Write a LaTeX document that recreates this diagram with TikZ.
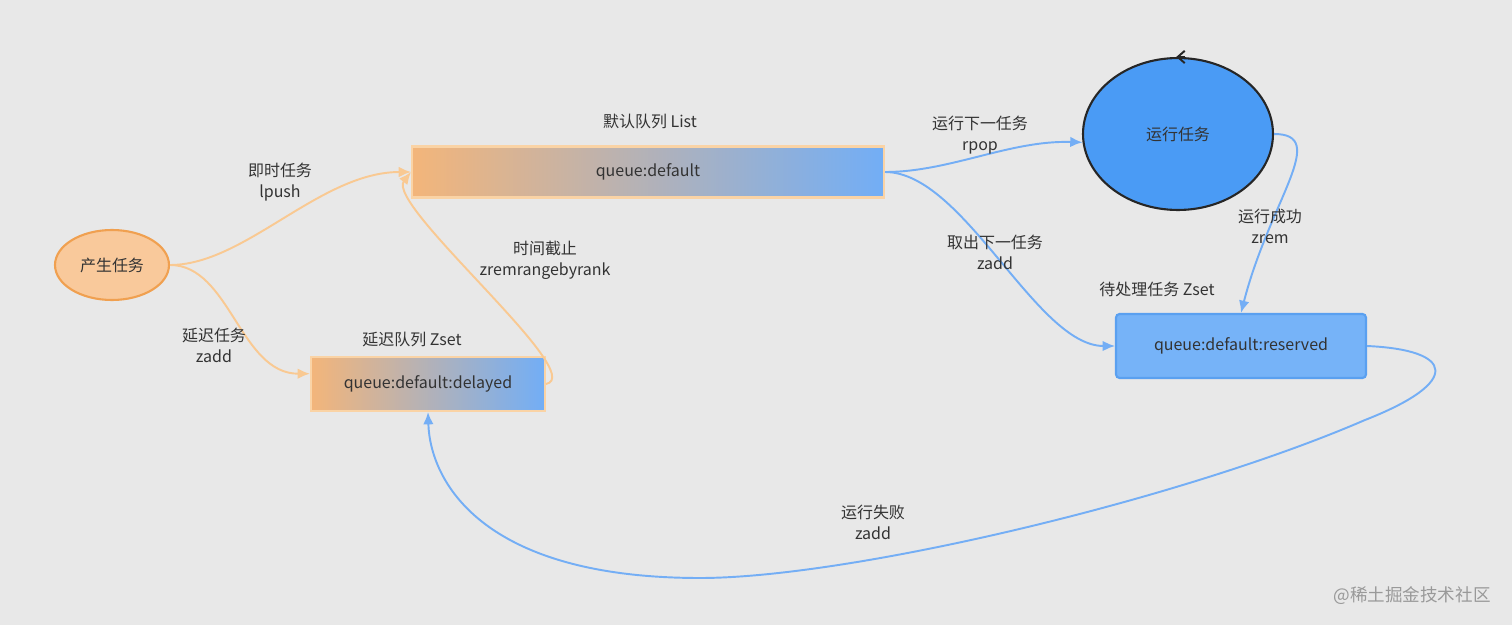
\documentclass[tikz,border=0pt]{standalone}
\usepackage{fontspec}
\setmainfont{Noto Sans CJK SC}
\usetikzlibrary{shapes.geometric,arrows.meta}

\definecolor{bggray}{HTML}{E8E8E8}
\definecolor{txtgray}{HTML}{333333}
\definecolor{genfill}{HTML}{F9C99B}
\definecolor{gendraw}{HTML}{F0A050}
\definecolor{orline}{HTML}{F9C992}
\definecolor{boxorange}{HTML}{F3B57A}
\definecolor{boxblue}{HTML}{72AEF6}
\definecolor{boxedge}{HTML}{FAD3A5}
\definecolor{blline}{HTML}{74AEF5}
\definecolor{runfill}{HTML}{4A9BF5}
\definecolor{resfill}{HTML}{76B3F8}
\definecolor{resdraw}{HTML}{5AA0F0}

\begin{document}
\begin{tikzpicture}[x=0.02cm,y=-0.02cm,
  every node/.style={font=\fontsize{9.1}{12}\selectfont,text=txtgray},
  gennode/.style={ellipse,draw=gendraw,fill=genfill,line width=1.2pt,minimum width=2.28cm,minimum height=1.4cm,inner sep=0pt},
  queuebox/.style={rectangle,draw=boxedge,line width=1.2pt,left color=boxorange,right color=boxblue,inner sep=0pt},
  runnode/.style={ellipse,draw=black!85,fill=runfill,line width=1.2pt,minimum width=3.8cm,minimum height=3.04cm,inner sep=0pt},
  resbox/.style={rectangle,rounded corners=2pt,draw=resdraw,fill=resfill,line width=1.2pt,minimum width=5cm,minimum height=1.28cm,inner sep=0pt},
  lbl/.style={align=center},
  orarrow/.style={draw=orline,line width=1.1pt,-{Latex[length=7pt,width=6pt]}},
  blarrow/.style={draw=blline,line width=1.1pt,-{Latex[length=7pt,width=6pt]}}]

  \fill[bggray] (0,0) rectangle (1512,625);
  \useasboundingbox (0,0) rectangle (1512,625);

  \node[gennode] (gen) at (112,265) {产生任务};
  \node[queuebox,minimum width=9.44cm,minimum height=1.02cm] (list) at (648,172) {queue:default};
  \node[queuebox,minimum width=4.68cm,minimum height=1.08cm] (delayed) at (428,384) {queue:default:delayed};
  \node[runnode] (run) at (1178,134) {运行任务};
  \node[resbox] (reserved) at (1241,346) {queue:default:reserved};

  \node (listtitle) at (650,121) {默认队列 List};
  \node (delaytitle) at (412,339) {延迟队列 Zset};
  \node (restitle) at (1157,289) {待处理任务 Zset};

  \draw[orarrow] (gen.east) .. controls (245,265) and (320,172) .. (list.west);
  \draw[orarrow] (gen.east) .. controls (230,265) and (240,374) .. (delayed.175);
  \draw[orarrow] (delayed.east) .. controls (590,375) and (385,205) .. (list.west);
  \draw[blarrow] (list.east) .. controls (950,172) and (1010,140) .. (run.185);
  \draw[blarrow] (list.east) .. controls (964,172) and (1036,346) .. (reserved.west);
  \draw[blarrow] (run.east) .. controls (1330,134) and (1270,200) .. (reserved.north);
  \draw[blarrow] (reserved.east) .. controls (1455,350) and (1462,382) .. (1365,420)
    .. controls (1180,500) and (850,578) .. (700,578)
    .. controls (480,578) and (430,480) .. (delayed.south);
  \draw[black!85,line width=1.1pt,-{Straight Barb[length=4pt,width=7pt]}] ([xshift=4pt]run.north) -- ([xshift=-1pt]run.north);

  \node[lbl] (lpushlbl) at (280,182) {即时任务\\lpush};
  \node[lbl] (zaddlbl) at (214,345) {延迟任务\\zadd};
  \node[lbl] (zrrlbl) at (545,260) {时间截止\\zremrangebyrank};
  \node[lbl] (rpoplbl) at (980,135) {运行下一任务\\rpop};
  \node[lbl] (takelbl) at (995,252) {取出下一任务\\zadd};
  \node[lbl] (zremlbl) at (1270,226) {运行成功\\zrem};
  \node[lbl] (faillbl) at (873,522) {运行失败\\zadd};

  \node[font=\fontsize{10}{12}\selectfont,text=black!40] (mark) at (1412,596) {@稀土掘金技术社区};
\end{tikzpicture}
\end{document}
